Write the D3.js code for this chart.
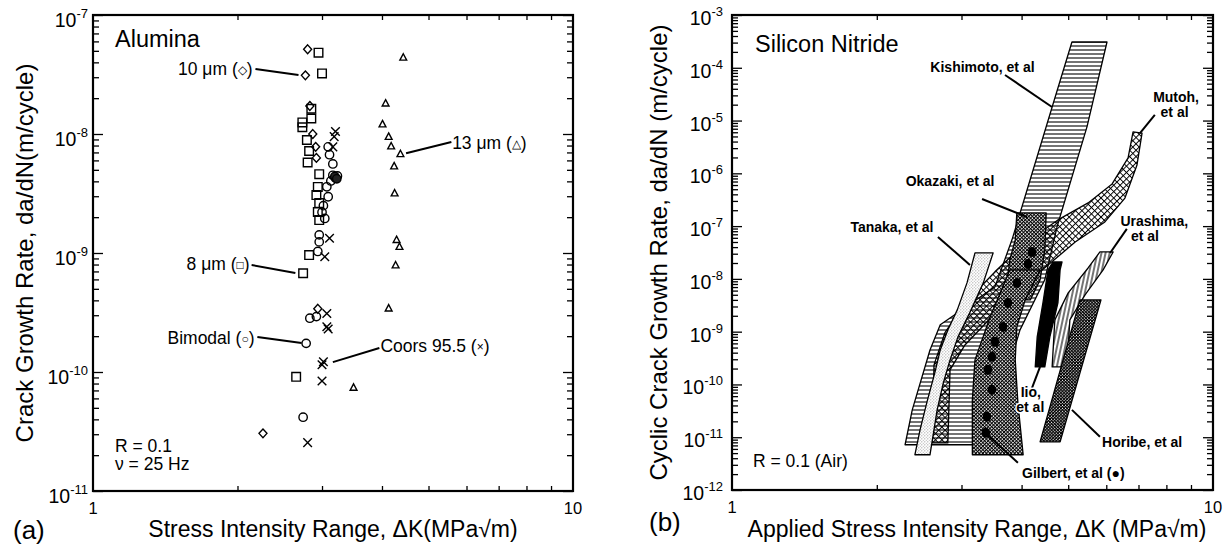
<!DOCTYPE html>
<html>
<head>
<meta charset="utf-8">
<script src="https://cdn.jsdelivr.net/npm/d3@7"></script>
<style>
  body { margin: 0; background: #fff; }
  text { font-family: "Liberation Sans", Arial, sans-serif; fill: #000; }
</style>
</head>
<body>
<svg id="chart" width="1226" height="548"></svg>
<script>
// ---- (a) Alumina : [dK (MPa sqrt m), da/dN (m/cycle)]
var diamond10um = [[2.80,5.15e-8],[2.77,3.11e-8],[2.83,1.72e-8],[2.87,1.0e-8],[2.91,7.8e-9],
  [2.92,6.3e-9],[2.94,3.4e-10],[2.26,3.05e-11]];
var square8um = [[2.95,4.82e-8],[3.00,3.23e-8],[2.85,1.63e-8],[2.85,1.35e-8],[2.73,1.25e-8],
  [2.73,1.14e-8],[2.79,8.9e-9],[2.82,7.2e-9],[2.80,5.76e-9],[2.96,4.6e-9],[2.94,3.59e-9],
  [2.92,3.07e-9],[2.96,2.63e-9],[2.94,2.21e-9],[2.96,1.89e-9],[2.82,9.6e-10],[2.74,6.76e-10],
  [2.65,9.1e-11]];
var circleBimodal = [[3.09,7.8e-9],[3.11,6.7e-9],[3.16,5.6e-9],[3.16,4.5e-9],[3.20,4.27e-9],
  [3.13,4.03e-9],[3.23,4.44e-9],[3.07,3.6e-9],[3.09,2.97e-9],[3.02,2.5e-9],[3.00,2.2e-9],
  [3.04,1.95e-9],[2.96,1.42e-9],[2.96,1.24e-9],[2.94,1.03e-9],[2.83,2.83e-10],[2.92,2.92e-10],
  [2.78,1.74e-10],[2.74,4.17e-11]];
var dotBimodal = [[3.19,4.4e-9],[3.22,4.2e-9]];
var crossCoors = [[3.18,9.5e-9],[3.20,1.05e-8],[3.16,7.8e-9],[3.11,1.33e-9],[3.04,9.3e-10],
  [3.07,3.1e-10],[3.07,2.4e-10],[3.09,2.3e-10],[3.00,1.15e-10],[3.02,1.22e-10],[3.00,8.4e-11],
  [2.80,2.55e-11]];
var triangle13um = [[4.43,4.4e-8],[4.07,1.81e-8],[4.01,1.21e-8],[4.13,9.5e-9],[4.18,7.9e-9],
  [4.37,6.8e-9],[4.24,5.37e-9],[4.25,3.18e-9],[4.29,1.29e-9],[4.35,1.13e-9],[4.27,7.9e-10],
  [4.13,3.43e-10],[3.49,7.4e-11]];

// labels: [text, symbol, dK, da/dN, anchor]  and leader lines [dK1, v1, dK2, v2]
var labelsA = [["10 μm (", "◇", 2.15, 3.13e-8, "end"], ["8 μm (", "□", 2.12, 7.2e-10, "end"],
  ["Bimodal (", "○", 2.17, 1.72e-10, "end"], ["Coors 95.5 (", "×", 3.97, 1.47e-10, "start"],
  ["13 μm (", "△", 5.60, 7.48e-9, "start"]];
var leadersA = [[2.18,3.52e-8,2.68,3.13e-8],[2.14,7.92e-10,2.64,6.79e-10],[2.20,1.97e-10,2.72,1.75e-10],
  [3.95,1.59e-10,3.16,1.21e-10],[4.49,6.9e-9,5.58,8.57e-9]];

// ---- (b) Silicon nitride scatter bands (outline points)
var kishimoto = [[5.09,3.08e-4],[6.02,3.08e-4],[5.47,7.6e-6],[4.74,9.7e-8],[4.47,9.6e-9],
  [3.97,1.08e-9],[3.36,7.2e-12],[2.29,7.2e-12],[2.37,3.3e-11],[2.58,4.5e-10],[2.71,1.35e-9],
  [2.84,1.82e-9],[3.52,7.05e-9],[3.82,5.5e-8],[4.63,1.81e-5]];
var mutoh = [[6.82,6.08e-6],[6.66,1.96e-6],[6.17,6.3e-7],[5.50,2.75e-7],[4.76,1.31e-7],
  [4.07,4.8e-8],[3.52,1.36e-8],[3.05,3.5e-9],[2.77,9.5e-10],[2.63,2.35e-10],[2.61,7.8e-12],
  [2.81,7.8e-12],[2.84,1.89e-10],[3.05,5.6e-10],[3.61,2.8e-9],[4.37,1.36e-8],[5.17,5.0e-8],
  [5.96,1.2e-7],[6.56,3.4e-7],[6.95,1.44e-6],[7.12,5.8e-6]];
var tanaka = [[3.20,3.1e-8],[3.08,8.4e-9],[2.94,2.59e-9],[2.81,1.08e-9],[2.71,4.5e-10],
  [2.64,1.66e-10],[2.54,4.48e-11],[2.46,1.38e-11],[2.40,4.65e-12],[2.58,4.65e-12],
  [2.67,3.3e-11],[2.75,1.07e-10],[2.84,2.92e-10],[2.95,7.97e-10],[3.12,2.27e-9],
  [3.33,8.4e-9],[3.49,3.1e-8]];
var okazaki = [[3.91,1.78e-7],[4.50,1.78e-7],[4.47,3.54e-8],[4.37,9.58e-9],[4.17,4.0e-9],
  [3.70,4.0e-9],[3.78,2.29e-8],[3.88,5.48e-8]];
var gilbert = [[3.78,1.48e-8],[4.37,1.48e-8],[4.07,4.0e-9],[3.91,1.23e-9],[3.88,2.92e-10],
  [3.93,4.48e-11],[4.03,4.65e-12],[3.16,4.65e-12],[3.16,5.1e-11],[3.20,2.92e-10],[3.44,1.9e-9]];
var gilbertPoints = [[4.205,3.24e-8],[4.125,1.92e-8],[3.913,8.4e-9],[3.748,3.51e-9],[3.66,1.23e-9],
  [3.522,6.41e-10],[3.47,3.33e-10],[3.405,1.89e-10],[3.47,7.9e-11],[3.389,2.43e-11],[3.373,1.21e-11]];
var iio = [[4.855,2.1e-8],[4.81,1.48e-8],[4.76,3.51e-9],[4.58,7.97e-10],[4.47,2.15e-10],
  [4.27,2.15e-10],[4.31,7.97e-10],[4.43,3.51e-9],[4.54,1.48e-8],[4.65,2.1e-8]];
var urashima = [[5.82,3.24e-8],[6.20,3.24e-8],[5.91,1.48e-8],[5.42,4.98e-9],[5.04,1.67e-9],
  [4.97,2.15e-10],[4.63,2.15e-10],[4.69,1.67e-9],[5.00,5.43e-9],[5.50,1.61e-8]];
var horibe = [[5.29,4.0e-9],[5.85,4.0e-9],[4.81,8.18e-12],[4.37,8.18e-12]];

var labelsB = [["Kishimoto, et al", 3.317, 8.3e-5, "middle"], ["Mutoh,", 8.38, 2.25e-5, "middle"],
  ["et al", 8.32, 1.17e-5, "middle"], ["Okazaki, et al", 2.84, 5.77e-7, "middle"],
  ["Tanaka, et al", 2.15, 7.76e-8, "middle"], ["Urashima,", 7.55, 1.01e-7, "middle"],
  ["et al", 7.22, 5.25e-8, "middle"], ["Iio,", 4.18, 5.82e-11, "middle"],
  ["et al", 4.17, 3.03e-11, "middle"], ["Horibe, et al", 5.88, 6.58e-12, "start"],
  ["Gilbert, et al (●)", 4.008, 1.70e-12, "start"]];
var leadersB = [[3.695,7.3e-5,4.627,1.81e-5],[7.57,1.28e-5,7.05,5.8e-6],[3.31,3.27e-7,4.105,1.49e-7],
  [2.68,6.24e-8,3.124,1.84e-8],[6.62,8.85e-8,6.11,3.1e-8],[4.369,2.15e-10,4.205,8.63e-11],
  [5.82,1.02e-11,5.09,3.3e-11],[3.93,3.27e-12,3.31,1.38e-11]];

var svg = d3.select("#chart");

var xa = d3.scaleLog().domain([1, 10]).range([93, 573]);
var ya = d3.scaleLog().domain([1e-11, 1e-7]).range([491, 15]);
var xb = d3.scaleLog().domain([1, 10]).range([732, 1213]);
var yb = d3.scaleLog().domain([1e-12, 1e-3]).range([490, 15]);

// hatch patterns
var defs = svg.append("defs");
function pattern(id, size, rot, bg, draw) {
  var p = defs.append("pattern").attr("id", id).attr("patternUnits", "userSpaceOnUse")
    .attr("width", size).attr("height", size);
  if (rot) p.attr("patternTransform", "rotate(" + rot + ")");
  if (bg) p.append("rect").attr("width", size).attr("height", size).attr("fill", bg);
  draw(p, size);
}
function lines(d, w) {
  return function(p) { p.append("path").attr("d", d).attr("stroke", "#000").attr("stroke-width", w).attr("fill", "none"); };
}
pattern("hLines", 4, 0, "#fff", lines("M0,2H4", 1.1));
pattern("vLines", 4, 12, "#fff", lines("M2,0V4", 1.1));
pattern("grid", 4.5, 45, null, lines("M0,0.5H4.5M0.5,0V4.5", 1));
pattern("dense", 2.5, 45, "#fff", lines("M0,0.5H2.5M0.5,0V2.5", 1));
pattern("denseDark", 2.2, 45, "#fff", lines("M0,0.5H2.2M0.5,0V2.2", 1.2));
pattern("stipple", 3, 0, "#fff", function(p) {
  p.append("circle").attr("cx", 0.8).attr("cy", 0.8).attr("r", 0.65).attr("fill", "#999");
  p.append("circle").attr("cx", 2.3).attr("cy", 2.2).attr("r", 0.55).attr("fill", "#aaa");
});

function drawAxes(x, y, o) {
  var x0 = x.range()[0], x1 = x.range()[1], yTop = y.range()[1], yBot = y.range()[0];
  var g = svg.append("g");
  var e0 = Math.round(Math.log10(y.domain()[0])), e1 = Math.round(Math.log10(y.domain()[1]));
  var major = d3.range(e0, e1 + 1).map(function(e) { return Math.pow(10, e); });
  var minor = [];
  d3.range(e0, e1).forEach(function(e) { for (var m = 2; m <= 9; m++) minor.push(m * Math.pow(10, e)); });
  var xMinor = d3.range(2, 10);

  function put(axis, tx, ty) {
    g.append("g").attr("transform", "translate(" + tx + "," + ty + ")").call(axis)
      .call(function(s) { s.select(".domain").remove(); s.selectAll("line").attr("stroke-width", 1.3); });
  }
  put(d3.axisLeft(y).tickValues(minor).tickSize(-6).tickFormat(""), x0, 0);
  put(d3.axisLeft(y).tickValues(major).tickSize(-10).tickFormat(""), x0, 0);
  put(d3.axisRight(y).tickValues(minor).tickSize(-6).tickFormat(""), x1, 0);
  put(d3.axisRight(y).tickValues(major).tickSize(-10).tickFormat(""), x1, 0);
  put(d3.axisBottom(x).tickValues(xMinor).tickSize(-5).tickFormat(""), 0, yBot);
  put(d3.axisTop(x).tickValues(xMinor).tickSize(-5).tickFormat(""), 0, yTop);

  g.append("rect").attr("x", x0).attr("y", yTop).attr("width", x1 - x0).attr("height", yBot - yTop)
    .attr("fill", "none").attr("stroke", "#000").attr("stroke-width", 2.2);

  major.forEach(function(v) {
    var t = g.append("text").attr("x", x0 - o.gap).attr("y", y(v) + o.dy).attr("text-anchor", "end");
    t.append("tspan").attr("font-size", 19.5).text("10");
    t.append("tspan").attr("font-size", 13).attr("dy", -9).text(Math.round(Math.log10(v)));
  });
  [1, 10].forEach(function(v) {
    g.append("text").attr("x", x(v)).attr("y", yBot + 23).attr("text-anchor", "middle")
      .attr("font-size", 16.5).text(v);
  });
  g.append("text").attr("transform", "translate(" + o.ylx + "," + (yTop + yBot) / 2 + ") rotate(-90)")
    .attr("text-anchor", "middle").attr("font-size", 24).text(o.ylabel);
  g.append("text").attr("x", o.xlx).attr("y", 537).attr("text-anchor", "middle")
    .attr("font-size", 23).text(o.xlabel);
  g.append("text").attr("x", o.tagx).attr("y", o.tagy).attr("font-size", 26).text(o.tag);
}

// ---------- panel (a)
drawAxes(xa, ya, {gap: 5, dy: 12, ylx: 33, ylabel: "Crack Growth Rate, da/dN(m/cycle)",
  xlx: 333, xlabel: "Stress Intensity Range, ΔK(MPa√m)", tag: "(a)", tagx: 13, tagy: 539});

var shapes = {
  square: "M-4.3,-4.3H4.3V4.3H-4.3Z",
  diamond: "M0,-4.4L4,0L0,4.4L-4,0Z",
  circle: d3.symbol(d3.symbolCircle, 55)(),
  triangle: "M0,-3.7L3.4,2.7H-3.4Z",
  cross: "M-4.3,-4.3L4.3,4.3M-4.3,4.3L4.3,-4.3"
};
var ga = svg.append("g");
function markers(data, type, fill) {
  ga.selectAll(null).data(data).enter().append("path")
    .attr("transform", function(d) { return "translate(" + xa(d[0]) + "," + ya(d[1]) + ")"; })
    .attr("d", shapes[type]).attr("fill", fill || "none").attr("stroke", "#000").attr("stroke-width", 1.4);
}
markers(square8um, "square");
markers(diamond10um, "diamond");
markers(circleBimodal, "circle");
markers(dotBimodal, "circle", "#222");
markers(triangle13um, "triangle");
markers(crossCoors, "cross");

ga.selectAll(null).data(leadersA).enter().append("line")
  .attr("x1", function(d) { return xa(d[0]); }).attr("y1", function(d) { return ya(d[1]); })
  .attr("x2", function(d) { return xa(d[2]); }).attr("y2", function(d) { return ya(d[3]); })
  .attr("stroke", "#000").attr("stroke-width", 2);
labelsA.forEach(function(l) {
  var t = ga.append("text").attr("x", xa(l[2])).attr("y", ya(l[3])).attr("text-anchor", l[4])
    .attr("font-size", 17.5).text(l[0]);
  t.append("tspan").attr("font-size", 12).attr("dy", -1).text(l[1]);
  t.append("tspan").attr("dy", 1).text(")");
});
ga.append("text").attr("x", xa.range()[0] + 22).attr("y", 47).attr("font-size", 23.5).text("Alumina");
ga.append("text").attr("x", xa.range()[0] + 22).attr("y", 452).attr("font-size", 17.5).text("R = 0.1");
ga.append("text").attr("x", xa.range()[0] + 22).attr("y", 470).attr("font-size", 17.5).text("ν = 25 Hz");

// ---------- panel (b)
var gb = svg.append("g");
var bands = [
  {pts: kishimoto, fill: "url(#hLines)"},
  {pts: mutoh, fill: "url(#grid)"},
  {pts: tanaka, fill: "url(#stipple)"},
  {pts: okazaki, fill: "url(#dense)"},
  {pts: gilbert, fill: "url(#dense)"},
  {pts: iio, fill: "#000"},
  {pts: urashima, fill: "url(#vLines)"},
  {pts: horibe, fill: "url(#denseDark)"}
];
var band = d3.line().x(function(d) { return xb(d[0]); }).y(function(d) { return yb(d[1]); })
  .curve(d3.curveLinearClosed);
gb.selectAll(null).data(bands).enter().append("path")
  .attr("d", function(d) { return band(d.pts); })
  .attr("fill", function(d) { return d.fill; })
  .attr("stroke", "#000").attr("stroke-width", 1.3).attr("stroke-linejoin", "round");
gb.selectAll(null).data(gilbertPoints).enter().append("ellipse")
  .attr("cx", function(d) { return xb(d[0]); }).attr("cy", function(d) { return yb(d[1]); })
  .attr("rx", 4.2).attr("ry", 5).attr("fill", "#000");

drawAxes(xb, yb, {gap: 9, dy: 10, ylx: 667, ylabel: "Cyclic Crack Growth Rate, da/dN (m/cycle)",
  xlx: 977, xlabel: "Applied Stress Intensity Range, ΔK (MPa√m)", tag: "(b)", tagx: 649, tagy: 531});

gb.selectAll(null).data(leadersB).enter().append("line")
  .attr("x1", function(d) { return xb(d[0]); }).attr("y1", function(d) { return yb(d[1]); })
  .attr("x2", function(d) { return xb(d[2]); }).attr("y2", function(d) { return yb(d[3]); })
  .attr("stroke", "#000").attr("stroke-width", 2);
gb.selectAll(null).data(labelsB).enter().append("text")
  .attr("x", function(d) { return xb(d[1]); }).attr("y", function(d) { return yb(d[2]); })
  .attr("text-anchor", function(d) { return d[3]; })
  .attr("stroke", "#fff").attr("stroke-width", 3).attr("paint-order", "stroke")
  .attr("font-size", 14).attr("font-weight", "bold").text(function(d) { return d[0]; });
gb.append("text").attr("x", xb.range()[0] + 23).attr("y", 52).attr("font-size", 23.5).text("Silicon Nitride");
gb.append("text").attr("x", xb.range()[0] + 21).attr("y", 467).attr("font-size", 17.5).text("R = 0.1 (Air)");
</script>
</body>
</html>
